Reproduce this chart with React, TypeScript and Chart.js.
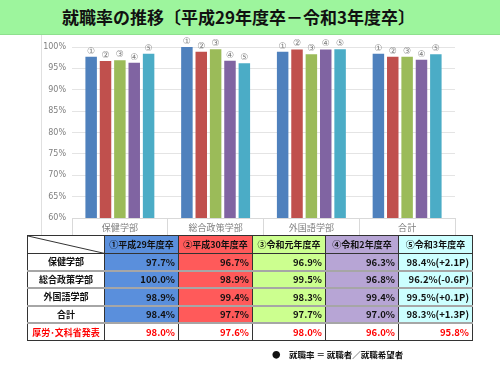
import React, { useEffect, useRef } from "react";
import { Chart, registerables } from "chart.js";

Chart.register(...registerables);

const categories = ["保健学部", "総合政策学部", "外国語学部", "合計"];
const seriesLabels = ["①平成29年度卒", "②平成30年度卒", "③令和元年度卒", "④令和2年度卒", "⑤令和3年度卒"];
const markers = ["①", "②", "③", "④", "⑤"];
const h29 = [97.7, 100.0, 98.9, 98.4];
const h30 = [96.7, 98.9, 99.4, 97.7];
const r1 = [96.9, 99.5, 98.3, 97.7];
const r2 = [96.3, 96.8, 99.4, 97.0];
const r3 = [98.4, 96.2, 99.5, 98.3];
const r3diff = ["+2.1P", "-0.6P", "+0.1P", "+1.3P"];
const official = [98.0, 97.6, 98.0, 96.0, 95.8];
const officialLabel = "厚労･文科省発表";
const yTicks = { min: 60, max: 100, step: 5 };

const barColors = ["#4F81BD", "#C0504D", "#9BBB59", "#8064A2", "#4BACC6"];
const cellColors = ["#5A8FDC", "#FF5A5A", "#CCFF8F", "#B7A5D5", "#CCFFFF"];

const series = [h29, h30, r1, r2, r3];

const markerPlugin = {
  id: "markers",
  afterDatasetsDraw(chart: any) {
    const ctx = chart.ctx;
    ctx.save();
    ctx.fillStyle = "#7f7f7f";
    ctx.font = "9px 'DejaVu Sans', sans-serif";
    ctx.textAlign = "center";
    ctx.textBaseline = "bottom";
    chart.data.datasets.forEach((ds: any, di: number) => {
      const meta = chart.getDatasetMeta(di);
      meta.data.forEach((bar: any) => {
        ctx.fillText(markers[di], bar.x, bar.y - 1);
      });
    });
    ctx.restore();
  },
};

function BarChart() {
  const ref = useRef<HTMLCanvasElement>(null);
  useEffect(() => {
    if (!ref.current) return;
    const chart = new Chart(ref.current, {
      type: "bar",
      data: {
        labels: categories,
        datasets: series.map((s, i) => ({
          label: seriesLabels[i],
          data: s,
          backgroundColor: barColors[i],
          categoryPercentage: 0.75,
          barPercentage: 0.8,
        })),
      },
      options: {
        animation: false,
        responsive: false,
        maintainAspectRatio: false,
        layout: { autoPadding: false, padding: { top: 12, right: 12, left: 0, bottom: 0 } },
        plugins: { legend: { display: false }, tooltip: { enabled: false } },
        scales: {
          x: {
            grid: {
              offset: true,
              drawOnChartArea: false,
              drawTicks: true,
              tickLength: 17,
              color: "#d9d9d9",
            },
            border: { display: true, color: "#d9d9d9" },
            ticks: {
              color: "#7f7f7f",
              padding: -13,
              font: { size: 9, family: "'Noto Sans CJK JP', sans-serif" },
            },
            afterFit(scale: any) {
              scale.height = 20;
            },
          },
          y: {
            min: yTicks.min,
            max: yTicks.max,
            ticks: {
              stepSize: yTicks.step,
              color: "#7f7f7f",
              padding: 6,
              font: { size: 8, family: "'DejaVu Sans', sans-serif" },
              callback: (v: any) => v + "%",
            },
            grid: { color: "#e4e4e4", drawTicks: false },
            border: { display: false },
            afterFit(scale: any) {
              scale.width = 30;
            },
          },
        },
      },
      plugins: [markerPlugin],
    });
    return () => chart.destroy();
  }, []);
  return <canvas ref={ref} width={425} height={203} style={{ display: "block" }} />;
}

const cellFont = "'Noto Sans CJK JP', sans-serif";

export default function App() {
  useEffect(() => {
    document.body.style.margin = "0";
  }, []);
  const colW = [77, 74, 74, 73, 73, 74];
  const rowH = 17.5;
  const hLine = "2px solid #a6a6a6";
  const vLine = "1px solid #333";
  const rowLabels = categories;
  const baseCell: React.CSSProperties = {
    fontFamily: cellFont,
    fontWeight: 700,
    fontSize: 9.5,
    height: rowH,
    padding: 0,
    boxSizing: "border-box",
    whiteSpace: "nowrap",
  };
  return (
    <div style={{ position: "relative", width: 500, height: 375, background: "#fff", overflow: "hidden" }}>
      <div
        style={{
          position: "absolute",
          left: 0,
          top: 0,
          width: 500,
          height: 34,
          background: "#9DF59D",
          borderBottom: "1px solid #8ee08e",
        }}
      >
        <div
          style={{
            position: "absolute",
            left: 62,
            top: 6,
            fontFamily: cellFont,
            fontWeight: 700,
            fontSize: 17,
            lineHeight: "22px",
            color: "#111",
            whiteSpace: "nowrap",
          }}
        >
          就職率の推移〔平成29年度卒－令和3年度卒〕
        </div>
      </div>
      <div style={{ position: "absolute", left: 41, top: 35, width: 425, height: 203, borderLeft: "1px solid #e0e0e0" }}>
        <BarChart />
      </div>
      <table
        style={{
          position: "absolute",
          left: 27,
          top: 235,
          borderCollapse: "collapse",
          tableLayout: "fixed",
          width: colW.reduce((a, b) => a + b, 0),
        }}
      >
        <colgroup>
          {colW.map((w, i) => (
            <col key={i} style={{ width: w }} />
          ))}
        </colgroup>
        <tbody>
          <tr>
            <td style={{ ...baseCell, border: vLine, borderBottom: vLine, position: "relative", background: "#fff" }}>
              <svg width={colW[0]} height={rowH} style={{ position: "absolute", left: 0, top: 0 }}>
                <line x1={0} y1={0} x2={colW[0]} y2={rowH} stroke="#333" strokeWidth={1} />
              </svg>
            </td>
            {seriesLabels.map((s, i) => (
              <td
                key={i}
                style={{
                  ...baseCell,
                  fontSize: 9,
                  background: cellColors[i],
                  border: vLine,
                  textAlign: "center",
                  color: "#111",
                }}
              >
                {s}
              </td>
            ))}
          </tr>
          {rowLabels.map((r, ri) => (
            <tr key={ri}>
              <td
                style={{
                  ...baseCell,
                  fontSize: 9,
                  textAlign: "center",
                  borderLeft: vLine,
                  borderRight: vLine,
                  borderTop: ri === 0 ? vLine : hLine,
                  borderBottom: hLine,
                  color: "#111",
                }}
              >
                {r}
              </td>
              {series.map((s, si) => (
                <td
                  key={si}
                  style={{
                    ...baseCell,
                    background: cellColors[si],
                    textAlign: "right",
                    paddingRight: 3,
                    borderLeft: vLine,
                    borderRight: vLine,
                    borderTop: ri === 0 ? vLine : hLine,
                    borderBottom: hLine,
                    color: "#111",
                  }}
                >
                  {s[ri].toFixed(1) + "%" + (si === 4 ? "(" + r3diff[ri] + ")" : "")}
                </td>
              ))}
            </tr>
          ))}
          <tr>
            <td
              style={{
                ...baseCell,
                fontSize: 9,
                textAlign: "center",
                color: "#ff0000",
                border: vLine,
                borderTop: hLine,
              }}
            >
              {officialLabel}
            </td>
            {official.map((v, i) => (
              <td
                key={i}
                style={{
                  ...baseCell,
                  textAlign: "right",
                  paddingRight: 3,
                  color: "#ff0000",
                  background: "#fff",
                  border: vLine,
                  borderTop: hLine,
                }}
              >
                {v.toFixed(1) + "%"}
              </td>
            ))}
          </tr>
        </tbody>
      </table>
      <div
        style={{
          position: "absolute",
          left: 272,
          top: 348,
          fontFamily: cellFont,
          fontWeight: 700,
          fontSize: 8.5,
          color: "#111",
          whiteSpace: "nowrap",
        }}
      >
        ●　就職率 ＝ 就職者／就職希望者
      </div>
    </div>
  );
}
